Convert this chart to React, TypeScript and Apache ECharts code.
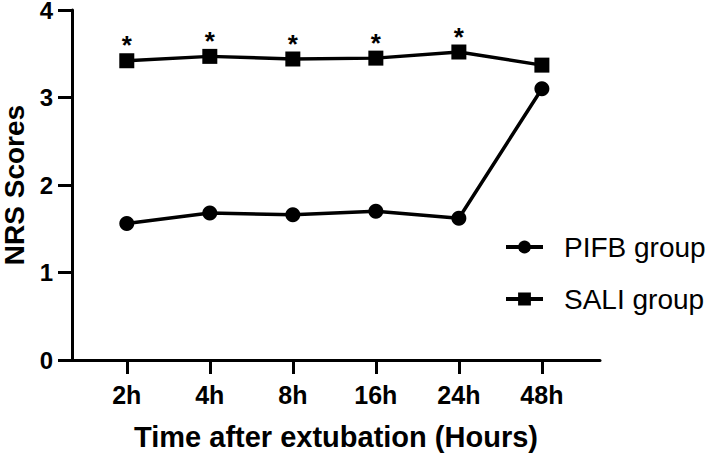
import React, { useEffect, useRef } from "react";
import * as echarts from "echarts";

const categories = ["2h", "4h", "8h", "16h", "24h", "48h"];
const pifb = [1.56, 1.68, 1.66, 1.7, 1.62, 3.1];
const sali = [3.42, 3.47, 3.44, 3.45, 3.52, 3.37];
const significant = [true, true, true, true, true, false];
const yTicks = [0, 1, 2, 3, 4];

const FONT = "'Liberation Sans', Arial, Helvetica, sans-serif";

export default function App() {
  const ref = useRef<HTMLDivElement>(null);
  useEffect(() => {
    if (!ref.current) return;
    const chart = echarts.init(ref.current, undefined, { renderer: "svg" });
    const idx = categories.map((_, i) => i);
    chart.setOption({
      animation: false,
      backgroundColor: "#fff",
      grid: {
        left: 72,
        right: 109,
        top: 10,
        bottom: 94,
        containLabel: false,
        outerBoundsMode: "none",
      },
      legend: {
        orient: "vertical",
        left: 504,
        top: 233,
        padding: 0,
        itemWidth: 37,
        itemHeight: 16,
        itemGap: 24,
        lineStyle: { width: 4 },
        textStyle: {
          fontFamily: FONT,
          fontSize: 28,
          lineHeight: 28,
          color: "#000",
          padding: [0, 0, 0, 16],
        },
        data: ["PIFB group", "SALI group"],
      },
      xAxis: {
        type: "value",
        min: -0.66,
        max: 5.7,
        splitLine: { show: false },
        axisLine: { show: true, onZero: false, lineStyle: { color: "#000", width: 3 } },
        axisTick: {
          show: true,
          length: 14,
          inside: false,
          customValues: idx,
          lineStyle: { color: "#000", width: 3 },
        },
        axisLabel: {
          customValues: idx,
          formatter: (v: number) => categories[Math.round(v)] ?? "",
          margin: 22,
          fontFamily: FONT,
          fontWeight: "bold",
          fontSize: 25,
          color: "#000",
        },
        name: "Time after extubation (Hours)",
        nameLocation: "middle",
        nameGap: 62,
        nameTextStyle: {
          fontFamily: FONT,
          fontWeight: "bold",
          fontSize: 29,
          color: "#000",
        },
      },
      yAxis: {
        type: "value",
        min: yTicks[0],
        max: yTicks[yTicks.length - 1],
        interval: 1,
        splitLine: { show: false },
        axisLine: { show: true, onZero: false, lineStyle: { color: "#000", width: 3 } },
        axisTick: { show: true, length: 14, inside: false, lineStyle: { color: "#000", width: 3 } },
        axisLabel: {
          margin: 19,
          fontFamily: FONT,
          fontWeight: "bold",
          fontSize: 24,
          lineHeight: 20,
          padding: [6, 0, 0, 0],
          color: "#000",
        },
        name: "NRS Scores",
        nameLocation: "middle",
        nameRotate: 90,
        nameGap: 42,
        nameTextStyle: {
          fontFamily: FONT,
          fontWeight: "bold",
          fontSize: 28,
          color: "#000",
        },
      },
      series: [
        {
          name: "PIFB group",
          type: "line",
          data: pifb.map((v, i) => [i, v]),
          symbol: "circle",
          symbolSize: 15,
          itemStyle: { color: "#000" },
          lineStyle: { color: "#000", width: 3.5 },
        },
        {
          name: "SALI group",
          type: "line",
          data: sali.map((v, i) => ({
            value: [i, v],
            label: significant[i]
              ? {
                  show: true,
                  position: "top",
                  distance: -5,
                  formatter: "*",
                  fontFamily: FONT,
                  fontWeight: "bold",
                  fontSize: 26,
                  color: "#000",
                }
              : { show: false },
          })),
          symbol: "rect",
          symbolSize: 15,
          itemStyle: { color: "#000" },
          lineStyle: { color: "#000", width: 3.5 },
        },
      ],
    });
    return () => chart.dispose();
  }, []);
  return <div ref={ref} style={{ width: 709, height: 454, position: "absolute", left: 0, top: 0 }} />;
}
